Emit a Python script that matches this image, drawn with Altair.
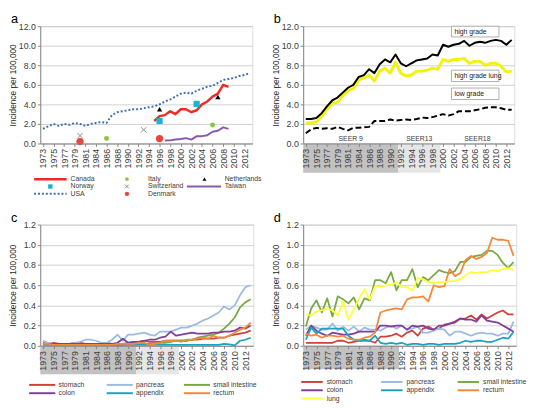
import altair as alt
import pandas as pd

FONT = "Liberation Sans"

# ---------------- categories ----------------
YEARS = [1973, 1974, 1975, 1976, 1977, 1978, 1979, 1980, 1981, 1982,
         1984, 1985, 1986, 1987, 1988, 1989, 1990, 1991, 1992, 1993,
         1994, 1995, 1996, 1997, 1998, 1999, 2000, 2001, 2002, 2003,
         2004, 2005, 2006, 2007, 2008, 2009, 2010, 2011, 2012, 2013]
N = len(YEARS)

# ---------------- panel a ----------------
USA = [1.5, 1.75, 2.0, 1.8, 2.0, 1.9, 2.1, 2.0, 1.8, 2.0,
       2.1, 2.2, 2.1, 2.9, 3.2, 3.3, 3.4, 3.5, 3.5, 3.6,
       3.7, 3.8, 4.0, 4.3, 4.5, 4.8, 5.1, 5.2, 5.1, 5.4,
       5.6, 5.8, 5.9, 6.2, 6.5, 6.6, 6.7, 6.9, 7.0, 7.2]
CANADA_YEARS = [1995, 1996, 1997, 1998, 1999, 2000, 2001, 2002, 2003, 2004,
                2005, 2006, 2007, 2008, 2009]
CANADA = [2.3, 2.8, 2.9, 3.3, 3.0, 3.5, 3.5, 3.2, 3.4, 4.0,
          4.3, 4.8, 5.1, 6.0, 5.8]
TAIWAN_YEARS = [1997, 1998, 1999, 2000, 2001, 2002, 2003, 2004, 2005, 2006,
                2007, 2008, 2009]
TAIWAN = [0.3, 0.32, 0.4, 0.45, 0.55, 0.4, 0.75, 0.75, 0.85, 1.2,
          1.3, 1.65, 1.5]
NETHERLANDS_YEARS = [1996, 2007]
NETHERLANDS = [3.5, 4.75]
NORWAY_YEARS = [1996, 2003]
NORWAY = [2.3, 4.05]
ITALY_YEARS = [1986, 2006]
ITALY = [0.5, 1.9]
SWITZERLAND_YEARS = [1980, 1993]
SWITZERLAND = [0.8, 1.4]
DENMARK_YEARS = [1980, 1996]
DENMARK = [0.2, 0.5]

# ---------------- panel b ----------------
HIGH_GRADE = [2.5, 2.5, 2.6, 3.1, 3.8, 4.4, 4.7, 5.2, 5.7, 6.0,
              6.8, 7.0, 7.6, 7.2, 8.1, 8.6, 8.3, 9.1, 8.2, 7.9,
              8.2, 8.5, 8.6, 8.7, 9.1, 9.0, 10.1, 9.9, 10.1, 10.2,
              10.5, 10.0, 10.3, 10.4, 10.3, 10.5, 10.6, 10.5, 10.1, 10.6]
HIGH_GRADE_LUNG = [2.1, 2.1, 2.2, 2.8, 3.5, 4.1, 4.2, 4.9, 5.4, 5.6,
                   6.5, 6.7, 7.0, 6.4, 7.4, 7.7, 7.2, 8.3, 7.2, 6.9,
                   7.0, 7.4, 7.4, 7.5, 7.7, 7.6, 8.6, 8.4, 8.6, 8.6,
                   8.7, 8.2, 8.4, 8.4, 8.0, 8.2, 8.2, 7.9, 7.3, 7.4]
LOW_GRADE = [1.05, 1.45, 1.6, 1.5, 1.55, 1.5, 1.7, 1.5, 1.35, 1.6,
             1.6, 1.65, 1.7, 2.3, 2.3, 2.3, 2.45, 2.35, 2.4, 2.45,
             2.4, 2.5, 2.65, 2.6, 2.7, 2.85, 3.0, 2.85, 3.0, 3.3,
             3.3, 3.3, 3.4, 3.5, 3.65, 3.7, 3.7, 3.6, 3.45, 3.45]
B_BOX_LABELS = ["high grade", "high grade lung", "low grade"]
SEER_LABELS = ["SEER 9", "SEER13", "SEER18"]
SEER_FIRST = [1973, 1992, 2000]
SEER_LAST = [1991, 1999, 2013]

# ---------------- panels c / d ----------------
SITES = ["stomach", "pancreas", "small intestine", "colon", "appendix", "rectum", "lung"]
SITE_COLORS = ["#d0413b", "#9dbbe0", "#78a943", "#7e3f98", "#1aa3bf", "#f5883a", "#ffff3a"]

C_STOMACH = [0.03, 0.02, 0.03, 0.02, 0.02, 0.02, 0.03, 0.03, 0.02, 0.02,
             0.02, 0.02, 0.03, 0.02, 0.02, 0.02, 0.03, 0.04, 0.04, 0.05,
             0.04, 0.04, 0.04, 0.05, 0.05, 0.05, 0.05, 0.05, 0.06, 0.06,
             0.07, 0.07, 0.07, 0.08, 0.08, 0.10, 0.11, 0.12, 0.13, 0.15]
C_PANCREAS = [0.05, 0.03, 0.02, 0.02, 0.02, 0.02, 0.03, 0.04, 0.06, 0.06,
              0.05, 0.03, 0.03, 0.06, 0.11, 0.05, 0.11, 0.11, 0.12, 0.13,
              0.11, 0.10, 0.14, 0.14, 0.14, 0.16, 0.18, 0.18, 0.20, 0.22,
              0.25, 0.27, 0.30, 0.33, 0.39, 0.36, 0.40, 0.50, 0.58, 0.60]
C_SMALL_INT = [0.02, 0.02, 0.01, 0.01, 0.01, 0.01, 0.01, 0.01, 0.01, 0.01,
               0.01, 0.01, 0.01, 0.01, 0.01, 0.01, 0.02, 0.02, 0.02, 0.02,
               0.02, 0.02, 0.03, 0.03, 0.04, 0.05, 0.05, 0.05, 0.06, 0.08,
               0.09, 0.10, 0.11, 0.13, 0.17, 0.22, 0.28, 0.38, 0.43, 0.46]
C_COLON = [0.02, 0.02, 0.02, 0.02, 0.02, 0.02, 0.02, 0.02, 0.02, 0.02,
           0.02, 0.02, 0.02, 0.02, 0.03, 0.07, 0.03, 0.04, 0.04, 0.05,
           0.06, 0.06, 0.08, 0.09, 0.14, 0.10, 0.11, 0.12, 0.13, 0.12,
           0.12, 0.12, 0.13, 0.13, 0.14, 0.14, 0.15, 0.18, 0.17, 0.20]
C_APPENDIX = [0.01, 0.01, 0.01, 0.01, 0.01, 0.01, 0.01, 0.01, 0.01, 0.01,
              0.01, 0.01, 0.01, 0.01, 0.01, 0.01, 0.01, 0.01, 0.01, 0.01,
              0.01, 0.01, 0.01, 0.01, 0.01, 0.01, 0.01, 0.01, 0.01, 0.01,
              0.01, 0.01, 0.01, 0.01, 0.02, 0.015, 0.005, 0.05, 0.06, 0.08]
C_RECTUM = [0.02, 0.02, 0.01, 0.01, 0.01, 0.01, 0.01, 0.01, 0.01, 0.01,
            0.01, 0.01, 0.01, 0.01, 0.02, 0.02, 0.02, 0.02, 0.03, 0.03,
            0.01, 0.02, 0.03, 0.05, 0.05, 0.05, 0.04, 0.06, 0.06, 0.07,
            0.08, 0.07, 0.10, 0.08, 0.08, 0.10, 0.13, 0.16, 0.18, 0.23]

D_STOMACH = [0.03, 0.03, 0.03, 0.03, 0.03, 0.03, 0.05, 0.05, 0.03, 0.04,
             0.05, 0.06, 0.05, 0.03, 0.09, 0.09, 0.10, 0.12, 0.09, 0.13,
             0.15, 0.10, 0.17, 0.19, 0.16, 0.17, 0.21, 0.22, 0.23, 0.27,
             0.27, 0.30, 0.26, 0.31, 0.27, 0.30, 0.33, 0.35, 0.31, 0.31]
D_PANCREAS = [0.16, 0.20, 0.18, 0.16, 0.16, 0.22, 0.15, 0.19, 0.15, 0.19,
              0.14, 0.18, 0.16, 0.16, 0.15, 0.18, 0.20, 0.17, 0.20, 0.16,
              0.17, 0.19, 0.13, 0.13, 0.15, 0.17, 0.16, 0.10, 0.14, 0.14,
              0.12, 0.10, 0.12, 0.13, 0.12, 0.12, 0.10, 0.12, 0.12, 0.24]
D_SMALL_INT = [0.19, 0.37, 0.45, 0.33, 0.47, 0.29, 0.49, 0.46, 0.42, 0.48,
               0.36, 0.47, 0.45, 0.65, 0.65, 0.62, 0.73, 0.55, 0.65, 0.65,
               0.76, 0.58, 0.68, 0.65, 0.70, 0.75, 0.73, 0.72, 0.74, 0.83,
               0.83, 0.88, 0.89, 0.90, 0.94, 0.94, 0.90, 0.82, 0.77, 0.83]
D_COLON = [0.10, 0.20, 0.15, 0.12, 0.10, 0.13, 0.12, 0.11, 0.11, 0.12,
           0.14, 0.14, 0.14, 0.14, 0.20, 0.20, 0.19, 0.20, 0.20, 0.16,
           0.20, 0.19, 0.20, 0.17, 0.16, 0.20, 0.20, 0.22, 0.24, 0.27,
           0.26, 0.26, 0.24, 0.30, 0.25, 0.24, 0.23, 0.20, 0.17, 0.14]
D_APPENDIX = [0.06, 0.18, 0.12, 0.17, 0.17, 0.17, 0.17, 0.17, 0.10, 0.06,
              0.05, 0.05, 0.05, 0.10, 0.03, 0.02, 0.03, 0.02, 0.03, 0.01,
              0.02, 0.02, 0.01, 0.02, 0.02, 0.01, 0.02, 0.02, 0.02, 0.03,
              0.05, 0.04, 0.05, 0.05, 0.04, 0.04, 0.06, 0.08, 0.07, 0.14]
D_RECTUM = [0.12, 0.10, 0.11, 0.08, 0.10, 0.10, 0.09, 0.10, 0.07, 0.06,
            0.06, 0.08, 0.09, 0.13, 0.33, 0.35, 0.36, 0.37, 0.36, 0.46,
            0.48, 0.48, 0.49, 0.44, 0.60, 0.58, 0.59, 0.76, 0.69, 0.72,
            0.85, 0.89, 0.86, 0.88, 0.92, 1.07, 1.05, 1.05, 1.04, 0.89]
D_LUNG = [0.31, 0.30, 0.34, 0.35, 0.37, 0.35, 0.30, 0.44, 0.26, 0.36,
          0.47, 0.56, 0.46, 0.59, 0.58, 0.60, 0.60, 0.63, 0.58, 0.58,
          0.55, 0.67, 0.66, 0.63, 0.62, 0.63, 0.63, 0.64, 0.64, 0.66,
          0.70, 0.73, 0.72, 0.73, 0.73, 0.75, 0.74, 0.76, 0.77, 0.75]

C_SERIES = [C_STOMACH, C_PANCREAS, C_SMALL_INT, C_COLON, C_APPENDIX, C_RECTUM]
D_SERIES = [D_STOMACH, D_PANCREAS, D_SMALL_INT, D_COLON, D_APPENDIX, D_RECTUM, D_LUNG]

# ---------------- helpers ----------------
LABEL_EXPR = "[" + ",".join("'%d'" % y for y in YEARS) + "][datum.value]"
TXT = "#404040"
AX = "#868686"


def idx(year):
    return YEARS.index(year)


class Panel:
    def __init__(self, W, H, ymax, ystep, fmt, ox, oy):
        self.W, self.H, self.ymax = W, H, ymax
        self.ox, self.oy = ox, oy  # page position of plot origin (legend layout)
        nsteps = int(round(ymax / ystep))
        yvals = [round(k * ystep, 2) for k in range(nsteps + 1)]
        self.X = alt.X("i:Q", scale=alt.Scale(domain=[-0.5, N - 0.5], nice=False, zero=False),
                       axis=alt.Axis(values=list(range(0, N, 2)), labelExpr=LABEL_EXPR,
                                     labelAngle=270, labelFontSize=9, labelColor=TXT,
                                     labelFont=FONT, labelPadding=2, tickSize=3,
                                     tickColor=AX, domainColor=AX, grid=False,
                                     zindex=1, title=None))
        self.Y = alt.Y("v:Q", scale=alt.Scale(domain=[0, ymax], nice=False, zero=True),
                       axis=alt.Axis(values=yvals, format=fmt, labelFontSize=9,
                                     labelColor=TXT, labelFont=FONT, tickSize=3,
                                     labelPadding=2, tickColor=AX, domainColor=AX,
                                     gridColor="#c4c4c4", gridWidth=0.8,
                                     title="Incidence per 100,000", titleFontSize=8.5,
                                     titleFont=FONT, titleFontWeight="normal",
                                     titleColor="#262626", titleX=-23, titleY=H / 2,
                                     titleAngle=270, titleAlign="center",
                                     titleBaseline="bottom"))
        self.layers = []

    # page px -> data units
    def xi(self, px):
        return -0.5 + (px - self.ox) / self.W * N

    def yv(self, py):
        return self.ymax * (1 - (py - self.oy) / self.H)

    def line(self, years, vals, color, width, dash=None):
        df = pd.DataFrame({"i": [idx(y) for y in years], "v": vals})
        kw = dict(color=color, strokeWidth=width, strokeJoin="round")
        if dash:
            kw["strokeDash"] = dash
        self.layers.append(alt.Chart(df).mark_line(**kw).encode(x=self.X, y=self.Y))

    def points(self, years, vals, **style):
        df = pd.DataFrame({"i": [idx(y) for y in years], "v": vals})
        self.layers.append(alt.Chart(df).mark_point(**style).encode(x=self.X, y=self.Y))

    def shade(self, firsts, lasts, colors, depth):
        df = pd.DataFrame({"i": [idx(a) - 0.5 for a in firsts],
                           "i2": [idx(b) + 0.5 for b in lasts],
                           "c": colors})
        self.layers.append(alt.Chart(df).mark_rect().encode(
            x=self.X, x2="i2:Q", y=alt.value(self.H), y2=alt.value(self.H + depth),
            color=alt.Color("c:N", scale=None)))

    def boxes(self, labels, x0, x1, tops, bottoms):
        df = pd.DataFrame({"i": [self.xi(x0)] * len(labels), "i2": [self.xi(x1)] * len(labels),
                           "v": [self.yv(t) for t in tops], "v2": [self.yv(b) for b in bottoms]})
        self.layers.append(alt.Chart(df).mark_rect(fill="#fff", stroke="#9a9a9a", strokeWidth=0.8).encode(
            x=self.X, x2="i2:Q", y=self.Y, y2="v2:Q"))
        tdf = pd.DataFrame({"i": [self.xi(x0 + 3)] * len(labels),
                            "v": [self.yv((t + b) / 2) for t, b in zip(tops, bottoms)],
                            "t": labels})
        self.layers.append(alt.Chart(tdf).mark_text(align="left", baseline="middle", fontSize=7,
                                                    color="#202020", font=FONT).encode(
            x=self.X, y=self.Y, text="t:N"))

    # legend pieces, positioned in page px (converted through the scales)
    def leg_line(self, x0, x1, y, color, width, dash=None):
        df = pd.DataFrame({"i": [self.xi(x0)], "i2": [self.xi(x1)], "v": [self.yv(y)]})
        kw = dict(color=color, strokeWidth=width)
        if dash:
            kw["strokeDash"] = dash
        self.layers.append(alt.Chart(df).mark_rule(**kw).encode(x=self.X, x2="i2:Q", y=self.Y))

    def leg_point(self, x, y, **style):
        df = pd.DataFrame({"i": [self.xi(x)], "v": [self.yv(y)]})
        self.layers.append(alt.Chart(df).mark_point(**style).encode(x=self.X, y=self.Y))

    def leg_text(self, x, y, label, size=7):
        df = pd.DataFrame({"i": [self.xi(x)], "v": [self.yv(y)], "t": [label]})
        self.layers.append(alt.Chart(df).mark_text(
            align="left", baseline="middle", fontSize=size, color=TXT, font=FONT
        ).encode(x=self.X, y=self.Y, text="t:N"))

    def chart(self, letter):
        ldf = pd.DataFrame({"t": [letter]})
        self.layers.append(alt.Chart(ldf).mark_text(
            align="left", baseline="alphabetic", fontSize=13, color="#000", font=FONT
        ).encode(x=alt.value(-30), y=alt.value(-3), text="t:N"))
        return alt.layer(*self.layers).properties(width=self.W, height=self.H)


OX_L, OX_R = 38, 307
OY_T, OY_B = 20, 223

# ---------------- panel a ----------------
A = Panel(217, 120, 12, 2, ".1f", OX_L, OY_T)
A.line(YEARS, USA, "#3d6fb6", 2, dash=[2, 2])
A.line(CANADA_YEARS, CANADA, "#ee2a24", 2.5)
A.line(TAIWAN_YEARS, TAIWAN, "#8a5aa8", 2)
A.points(NETHERLANDS_YEARS, NETHERLANDS, shape="triangle-up", filled=True, color="#000", size=30, opacity=1)
A.points(NORWAY_YEARS, NORWAY, shape="square", filled=True, color="#1cb2d6", size=40, opacity=1)
A.points(ITALY_YEARS, ITALY, shape="circle", filled=True, color="#8dc63f", size=26, opacity=1)
A.points(SWITZERLAND_YEARS, SWITZERLAND, shape="M-1,-1L1,1M-1,1L1,-1", filled=False,
         color="#8a8a8a", size=30, strokeWidth=1, opacity=1)
A.points(DENMARK_YEARS, DENMARK, shape="circle", filled=True, color="#e9453b", size=55, opacity=1)
# legend a (3 columns)
r0, r1, r2 = 176.5, 184, 191.5
A.leg_line(31.7, 65, r0, "#ee2a24", 2.5)
A.leg_text(69, r0, "Canada")
A.leg_point(126.7, r0, shape="circle", filled=True, color="#8dc63f", size=14, opacity=1)
A.leg_text(148.3, r0, "Italy")
A.leg_point(206, r0, shape="triangle-up", filled=True, color="#000", size=16, opacity=1)
A.leg_text(226.7, r0, "Netherlands")
A.leg_point(48.3, r1, shape="square", filled=True, color="#1cb2d6", size=20, opacity=1)
A.leg_text(69, r1, "Norway")
A.leg_point(126.7, r1, shape="M-1,-1L1,1M-1,1L1,-1", filled=False, color="#8a8a8a", size=14, strokeWidth=1, opacity=1)
A.leg_text(148.3, r1, "Switzerland")
A.leg_line(188, 223, r1, "#8a5aa8", 2)
A.leg_text(226.7, r1, "Taiwan")
A.leg_line(31.7, 65, r2, "#3d6fb6", 2, dash=[2, 2])
A.leg_text(69, r2, "USA")
A.leg_point(126.7, r2, shape="circle", filled=True, color="#e9453b", size=20, opacity=1)
A.leg_text(148.3, r2, "Denmark")
chart_a = A.chart("a")

# ---------------- panel b ----------------
B = Panel(216, 120, 12, 2, ".1f", OX_R, OY_T)
B.shade(SEER_FIRST[:2], SEER_LAST[:2], ["#c2c2c2", "#e6e6e6"], 30)
B.line(YEARS, LOW_GRADE, "#000", 2, dash=[6, 3])
B.line(YEARS, HIGH_GRADE_LUNG, "#f2f20c", 3)
B.line(YEARS, HIGH_GRADE, "#000", 2)
B.boxes(B_BOX_LABELS, 458.7, 507.3, [20, 65, 83.3], [31, 76.7, 95])
seer_df = pd.DataFrame({
    "i": [(idx(a) + idx(b)) / 2 for a, b in zip(SEER_FIRST, SEER_LAST)],
    "v": [B.yv(135.5)] * 3, "t": SEER_LABELS})
B.layers.append(alt.Chart(seer_df).mark_text(fontSize=7, color=TXT, font=FONT, baseline="middle").encode(
    x=B.X, y=B.Y, text="t:N"))
chart_b = B.chart("b")

# ---------------- panel c ----------------
C = Panel(218, 124, 1.2, 0.2, ".1f", OX_L, OY_B)
C.shade(SEER_FIRST[:2], SEER_LAST[:2], ["#c2c2c2", "#e6e6e6"], 29)
for vals, col in zip(C_SERIES, SITE_COLORS):
    C.line(YEARS, vals, col, 1.8)
c_cols = [26.7, 106, 185]
c_rows = [387, 395.5]
for k in range(6):
    x0 = c_cols[k % 3]
    y = c_rows[k // 3]
    C.leg_line(x0, x0 + 26.7, y, SITE_COLORS[k], 2)
    C.leg_text(x0 + 30, y, SITES[k])
chart_c = C.chart("c")

# ---------------- panel d ----------------
D = Panel(218, 124, 1.2, 0.2, ".1f", OX_R, OY_B)
D.shade(SEER_FIRST[:1], SEER_LAST[:1], ["#c2c2c2"], 24)
for vals, col in zip(D_SERIES, SITE_COLORS):
    D.line(YEARS, vals, col, 1.8)
d_cols = [305, 386.7, 465]
d_rows = [384, 392.5, 401]
for k in range(7):
    x0 = d_cols[k % 3]
    y = d_rows[k // 3]
    D.leg_line(x0, x0 + 22, y, SITE_COLORS[k], 2)
    D.leg_text(x0 + 26, y, SITES[k])
chart_d = D.chart("d")

chart = alt.concat(
    chart_a, chart_b, chart_c, chart_d,
    columns=2, bounds="flush",
    spacing={"row": OY_B - OY_T - 120, "column": OX_R - OX_L - 218},
).properties(padding={"left": 0, "top": 0, "right": 0, "bottom": 0}
).configure_view(stroke=None).configure(font=FONT, background="#ffffff")

chart.save("out.html", embed_options={"renderer": "svg", "actions": False})
